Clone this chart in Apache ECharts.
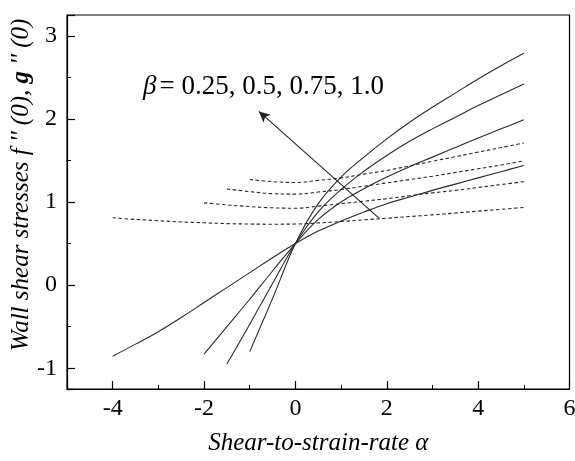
<!DOCTYPE html>
<html>
<head>
<meta charset="utf-8">
<script src="https://cdn.jsdelivr.net/npm/echarts@6/dist/echarts.min.js"></script>
<style>
  html, body { margin: 0; padding: 0; background: #fff; }
  #main { width: 575px; height: 461px; }
</style>
</head>
<body>
<div id="main"></div>
<script>
// shear-to-strain-rate alpha, shared sample points
var alpha = [-4, -3.5, -3, -2.5, -2, -1.5, -1, -0.5, 0, 0.5, 1, 1.5, 2, 2.5, 3, 3.5, 4, 4.5, 5];

// f''(0), solid curves
var f1 = [-0.855, -0.71, -0.56, -0.39, -0.21, -0.03, 0.15, 0.33, 0.5, 0.65, 0.77, 0.88, 0.98, 1.06, 1.14, 1.215, 1.29, 1.365, 1.44];
var f2 = [null, null, null, null, -0.83, -0.50, -0.17, 0.17, 0.5, 0.79, 1.0, 1.16, 1.3, 1.425, 1.54, 1.655, 1.77, 1.88, 1.99];
var f3 = [null, null, null, null, null, -0.95, -0.47, 0.02, 0.5, 0.88, 1.15, 1.37, 1.56, 1.73, 1.88, 2.02, 2.16, 2.29, 2.42];
var f4 = [null, null, null, null, null, null, -0.80, -0.16, 0.5, 0.98, 1.3, 1.54, 1.76, 1.96, 2.14, 2.31, 2.48, 2.64, 2.79];

// g''(0), dashed curves
var g1 = [0.81, 0.79, 0.775, 0.76, 0.75, 0.74, 0.735, 0.733, 0.735, 0.748, 0.765, 0.785, 0.805, 0.825, 0.845, 0.867, 0.89, 0.912, 0.935];
var g2 = [null, null, null, null, 0.99, 0.965, 0.945, 0.93, 0.925, 0.95, 0.98, 1.01, 1.04, 1.075, 1.11, 1.14, 1.175, 1.21, 1.245];
var g3 = [null, null, null, null, null, 1.157, 1.125, 1.10, 1.095, 1.12, 1.15, 1.19, 1.23, 1.27, 1.31, 1.355, 1.40, 1.445, 1.494];
var g4 = [null, null, null, null, null, null, 1.27, 1.245, 1.235, 1.26, 1.29, 1.335, 1.38, 1.435, 1.49, 1.545, 1.60, 1.655, 1.71];

// annotation arrow (data coords)
var arrowFrom = [1.83, 0.805];
var arrowTo = [-0.8, 2.09];

var serif = 'Liberation Serif';

function pairs(ys) {
  return alpha.map(function (x, i) { return [x, ys[i]]; });
}

function curve(name, ys, dashed) {
  return {
    name: name,
    type: 'line',
    data: pairs(ys),
    smooth: 0.4,
    showSymbol: false,
    silent: true,
    lineStyle: {
      color: '#2a2a2a',
      width: 1.1,
      type: dashed ? [3.5, 2.5] : 'solid'
    }
  };
}

var series = [
  curve('f1', f1, false),
  curve('f2', f2, false),
  curve('f3', f3, false),
  curve('f4', f4, false),
  curve('g1', g1, true),
  curve('g2', g2, true),
  curve('g3', g3, true),
  curve('g4', g4, true)
];

series[0].markLine = {
  silent: true,
  symbol: ['none', 'arrow'],
  symbolSize: [8, 11],
  label: { show: false },
  lineStyle: { color: '#222', width: 1.1, type: 'solid' },
  data: [[{ coord: arrowFrom }, { coord: arrowTo }]]
};

var chart = echarts.init(document.getElementById('main'));
chart.setOption({
  animation: false,
  backgroundColor: '#fff',
  grid: {
    left: 67, top: 15, right: 5.5, bottom: 72,
    outerBoundsMode: 'none',
    containLabel: false,
    show: true, borderColor: '#000', borderWidth: 1.2
  },
  xAxis: {
    type: 'value',
    min: -5, max: 6, splitNumber: 5,
    name: 'Shear-to-strain-rate α',
    nameLocation: 'middle',
    nameGap: 42,
    nameMoveOverlap: false,
    nameTextStyle: { fontFamily: serif, fontStyle: 'italic', fontSize: 25, color: '#000' },
    axisLine: { onZero: false, lineStyle: { color: '#000', width: 1.2 } },
    axisTick: { inside: true, length: 8, lineStyle: { color: '#000', width: 1.2 } },
    minorTick: { show: true, splitNumber: 2, length: 4, lineStyle: { color: '#000', width: 1 } },
    axisLabel: { showMinLabel: false, fontFamily: serif, fontSize: 24, color: '#000', margin: 8 },
    splitLine: { show: false }
  },
  yAxis: {
    type: 'value',
    min: -1.25, max: 3.25, splitNumber: 5,
    name: "Wall shear stresses f '' (0), {b|g} '' (0)",
    nameLocation: 'middle',
    nameGap: 33,
    nameMoveOverlap: false,
    nameTextStyle: {
      fontFamily: serif, fontStyle: 'italic', fontSize: 25, color: '#000',
      padding: [0, 0, 0, 34],
      rich: { b: { fontFamily: serif, fontStyle: 'italic', fontWeight: 'bold', fontSize: 25, color: '#000' } }
    },
    axisLine: { onZero: false, lineStyle: { color: '#000', width: 1.2 } },
    axisTick: { inside: true, length: 8, lineStyle: { color: '#000', width: 1.2 } },
    minorTick: { show: true, splitNumber: 2, length: 4, lineStyle: { color: '#000', width: 1 } },
    axisLabel: { showMinLabel: false, showMaxLabel: false, fontFamily: serif, fontSize: 24, color: '#000', margin: 10 },
    splitLine: { show: false }
  },
  graphic: [{
    type: 'text',
    left: 143,
    top: 73,
    style: {
      text: '{i|β}{n|= 0.25, 0.5, 0.75, 1.0}',
      rich: {
        i: { fontFamily: serif, fontStyle: 'italic', fontSize: 27, fill: '#000', padding: [0, 3, 0, 0] },
        n: { fontFamily: serif, fontSize: 27, fill: '#000' }
      }
    }
  }],
  series: series
});
</script>
</body>
</html>
